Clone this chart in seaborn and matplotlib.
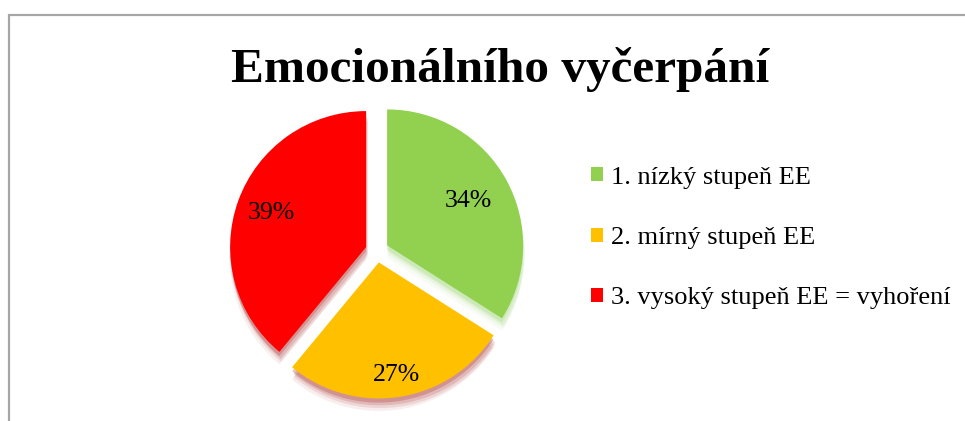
import matplotlib
matplotlib.use("Agg")
import matplotlib.pyplot as plt
import matplotlib.patheffects as pe
from matplotlib.lines import Line2D
from matplotlib.patches import Patch
import numpy as np
import seaborn as sns

# data
categories = ["1. nízký stupeň EE", "2. mírný stupeň EE", "3. vysoký stupeň EE = vyhoření"]
shares = [34, 27, 39]
colors = ["#92D050", "#FFC000", "#FF0000"]
shadow_colors = ["#9fd77a", "#a83030", "#a83030"]
title = "Emocionálního vyčerpání"

sns.set_theme(style="white")
plt.rcParams["font.family"] = ["Liberation Serif", "DejaVu Serif"]
plt.rcParams["text.color"] = "black"

fig = plt.figure(figsize=(9.65, 4.21), dpi=100)
fig.patch.set_facecolor("white")

# gray chart border (top and left edges visible)
fig.add_artist(Line2D([9 / 965, 9 / 965], [0, 1 - 15 / 421], transform=fig.transFigure,
                      color="#a6a6a6", lw=1.6))
fig.add_artist(Line2D([9 / 965, 1], [1 - 15 / 421, 1 - 15 / 421], transform=fig.transFigure,
                      color="#a6a6a6", lw=1.6))

ax = fig.add_axes([207 / 965, 0 / 421, 340 / 965, 340 / 421])
ax.set_xlim(-1.25, 1.25)
ax.set_ylim(-1.25, 1.25)
ax.axis("off")

wedges, texts = ax.pie(shares, colors=colors, startangle=90, counterclock=False,
                       explode=[0.085] * 3, radius=1.0,
                       wedgeprops=dict(linewidth=0))

# soft shadow under each slice
for w, sc in zip(wedges, shadow_colors):
    effects = []
    for off, a in [((0, -9), 0.08), ((1, -7), 0.12), ((1, -5), 0.18), ((0, -3), 0.28)]:
        effects.append(pe.SimplePatchShadow(offset=off, shadow_rgbFace=sc, alpha=a))
    effects.append(pe.Normal())
    w.set_path_effects(effects)

# percentage labels
pct_dist = [0.68, 0.84, 0.74]
for w, v, d in zip(wedges, shares, pct_dist):
    ang = np.deg2rad((w.theta1 + w.theta2) / 2)
    cx, cy = w.center
    ax.text(cx + d * np.cos(ang), cy + d * np.sin(ang), f"{v}%",
            ha="center", va="center", fontsize=18.5, color="black")

fig.text(0.518, 1 - 82 / 421, title, ha="center", va="baseline",
         fontsize=35.5, fontweight="bold", color="black")

handles = [Patch(facecolor=c, edgecolor="none") for c in colors]
leg = fig.legend(handles, categories, loc="center left",
                 bbox_to_anchor=(591 / 965, 1 - 238 / 421), frameon=False,
                 fontsize=19, handlelength=0.45, handleheight=0.45, handletextpad=0.3,
                 labelspacing=1.45, borderaxespad=0, borderpad=0)
for t in leg.get_texts():
    t.set_color("black")

fig.savefig("out.png", dpi=100, facecolor="white")
